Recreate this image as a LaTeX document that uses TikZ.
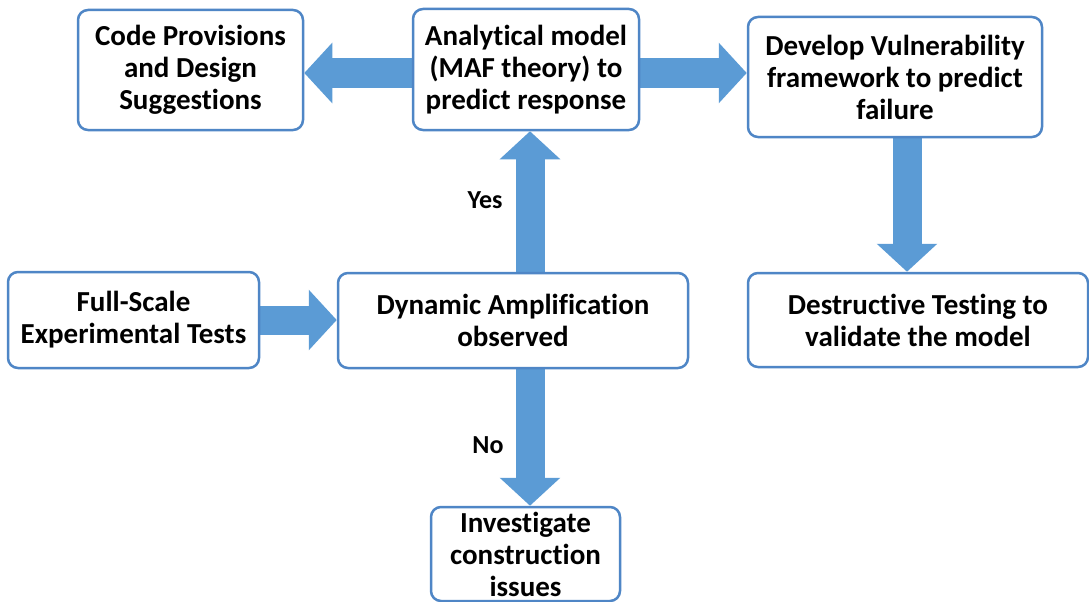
\documentclass[tikz,border=0pt]{standalone}
\usepackage{fontspec}
\setmainfont{Carlito}[Ligatures=NoCommon]
\usetikzlibrary{positioning,arrows.meta,backgrounds}
\definecolor{flowblue}{HTML}{5B9BD5}
\definecolor{boxedge}{HTML}{4F86C6}
\tikzset{
  stage/.style={draw=boxedge,line width=2.5pt,fill=white,rounded corners=10pt,
    align=center,inner sep=0pt,font=\bfseries\fontsize{29}{32}\selectfont},
  flow/.style={flowblue,line width=29pt,-{Triangle[length=28pt,width=59pt]}},
}

\begin{document}
\begin{tikzpicture}[x=1pt,y=-1pt,font=\bfseries\fontsize{26}{32}\selectfont]
  \useasboundingbox (0,0) rectangle (1089,602);
  % top row
  \node[stage,minimum width=225pt,minimum height=120pt] (code) at (190.5,70)
     {Code Provisions\\and Design\\Suggestions};
  \node[stage,minimum width=226pt,minimum height=121pt] (model) at (526,69.5)
     {Analytical model\\(MAF theory) to\\predict response};
  \node[stage,minimum width=294pt,minimum height=120pt] (vuln) at (895,77)
     {Develop Vulnerability\\framework to predict\\failure};
  % middle row
  \node[stage,minimum width=251pt,minimum height=96pt] (tests) at (133.5,320)
     {Full-Scale\\Experimental Tests};
  \node[stage,minimum width=350pt,minimum height=95pt] (dyn) at (513,320.5)
     {Dynamic Amplification\\observed};
  \node[stage,minimum width=340pt,minimum height=94pt] (destr) at (918,320)
     {Destructive Testing to\\validate the model};
  % bottom
  \node[stage,minimum width=189pt,minimum height=94pt] (invest) at (525.5,554)
     {Investigate\\construction\\issues};
  \node (yes) at (485,200) {Yes};
  \node (no) at (488,445) {No};
  \begin{scope}[on background layer]
    \draw[flow] (model.west |- 0,73) -- (code.east |- 0,73);
    \draw[flow] (model.east |- 0,73) -- (vuln.west |- 0,73);
    \draw[flow] (vuln.south -| 907,0) -- (destr.north -| 907,0);
    \draw[flow] (tests.east) -- (dyn.west |- tests.east);
    \draw[flow] (dyn.north -| 530,0) -- (model.south -| 530,0);
    \draw[flow] (dyn.south -| 530,0) -- (invest.north -| 530,0);
  \end{scope}
\end{tikzpicture}
\end{document}
